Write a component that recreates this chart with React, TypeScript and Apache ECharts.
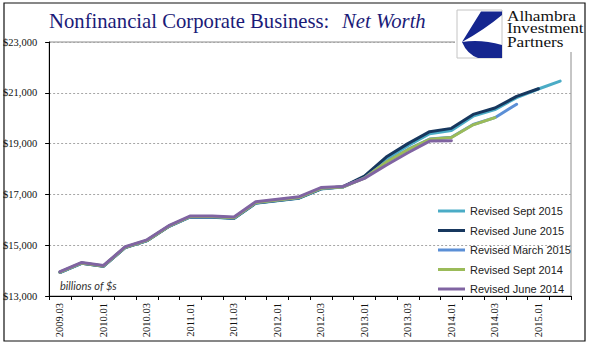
import React, { useEffect, useRef } from 'react';
import * as echarts from 'echarts';

const categories = [
  '2009.03', '2009.04',
  '2010.01', '2010.02', '2010.03', '2010.04',
  '2011.01', '2011.02', '2011.03', '2011.04',
  '2012.01', '2012.02', '2012.03', '2012.04',
  '2013.01', '2013.02', '2013.03', '2013.04',
  '2014.01', '2014.02', '2014.03', '2014.04',
  '2015.01', '2015.02',
];

const revisedSept2015 = [13925, 14285, 14170, 14905, 15175, 15735, 16115, 16100, 16050, 16650, 16750, 16850, 17210, 17290, 17680, 18390, 18920, 19390, 19520, 20080, 20340, 20810, 21150, 21460];
const revisedJune2015 = [13930, 14290, 14175, 14910, 15180, 15740, 16120, 16110, 16060, 16660, 16760, 16860, 17220, 17300, 17720, 18470, 19000, 19470, 19600, 20150, 20400, 20860, 21160, null];
const revisedMarch2015 = [13935, 14295, 14180, 14915, 15185, 15745, 16125, 16120, 16070, 16670, 16770, 16870, 17230, 17290, 17650, 18280, 18770, 19180, 19250, 19750, 20020, 20550, null, null];
const revisedSept2014 = [13940, 14300, 14185, 14920, 15190, 15750, 16130, 16130, 16080, 16680, 16780, 16880, 17240, 17290, 17640, 18270, 18760, 19170, 19240, 19740, 20020, null, null, null];
const revisedJune2014 = [13960, 14320, 14205, 14940, 15210, 15770, 16150, 16150, 16110, 16710, 16810, 16910, 17270, 17310, 17630, 18150, 18640, 19100, 19110, null, null, null, null, null];

const seriesNames = ['Revised Sept 2015', 'Revised June 2015', 'Revised March 2015', 'Revised Sept 2014', 'Revised June 2014'];
const seriesData = [revisedSept2015, revisedJune2015, revisedMarch2015, revisedSept2014, revisedJune2014];
const seriesColors = ['#4BACC6', '#17375E', '#5B8FD6', '#9BBB59', '#8064A2'];

const yMin = 13000;
const yMax = 23000;
const yStep = 2000;

const LOGO_D = 'M24 1.5 L45 1.5 L45 5 Q27 20 5 32 Z M5 32 Q24 29 45 35 L45 48 L21 48 Q10 44 5 32 Z';
echarts.graphic.registerShape('alhambraLogo', echarts.graphic.extendPath(LOGO_D, {}));

export default function App() {
  const ref = useRef<HTMLDivElement>(null);

  useEffect(() => {
    if (!ref.current) return;
    const chart = echarts.init(ref.current, undefined, { renderer: 'svg' });
    const serif = 'Liberation Serif, Times New Roman, serif';
    const option: any = {
      animation: false,
      backgroundColor: '#ffffff',
      grid: {
        left: 49, right: 24, top: 42, bottom: 65,
        show: true, borderColor: '#8c8c8c', borderWidth: 1,
      },
      xAxis: {
        type: 'category',
        data: categories,
        boundaryGap: true,
        axisLine: { lineStyle: { color: '#000', width: 1 } },
        axisTick: { show: true, interval: 0, length: 4, lineStyle: { color: '#000' } },
        axisLabel: { interval: 1, rotate: 90, margin: 7, fontFamily: serif, fontSize: 10.5, color: '#111' },
        splitLine: { show: false },
      },
      yAxis: {
        type: 'value',
        min: yMin,
        max: yMax,
        interval: yStep,
        axisLine: { show: true, lineStyle: { color: '#000', width: 1 } },
        axisTick: { show: true, length: 4, lineStyle: { color: '#000' } },
        axisLabel: {
          margin: 12,
          fontFamily: serif,
          fontSize: 10.5,
          color: '#111',
          formatter: (v: number) => '$' + v.toLocaleString('en-US'),
        },
        splitLine: { show: true, lineStyle: { color: '#a6a6a6', type: [2, 2], width: 1 } },
      },
      legend: {
        orient: 'vertical',
        left: 433,
        top: 199,
        itemWidth: 27,
        itemHeight: 3,
        itemGap: 5.5,
        icon: 'rect',
        textStyle: { fontFamily: 'Liberation Sans, Arial, sans-serif', fontSize: 11, color: '#222', lineHeight: 14 },
        data: seriesNames,
      },
      series: seriesNames.map((name, i) => ({
        name,
        type: 'line',
        data: seriesData[i],
        symbol: 'none',
        connectNulls: false,
        color: seriesColors[i],
        lineStyle: { color: seriesColors[i], width: 3, join: 'round', cap: 'round' },
        emphasis: { disabled: true },
        z: 2 + i * 0.01,
      })),
      graphic: [
        {
          type: 'text', x: 49, y: 21, z: 100,
          style: { text: 'Nonfinancial Corporate Business:', fontFamily: serif, fontSize: 20.7, fill: '#1B1B78', verticalAlign: 'middle', align: 'left' },
        },
        {
          type: 'text', x: 342, y: 21, z: 100,
          style: { text: 'Net Worth', fontFamily: serif, fontStyle: 'italic', fontSize: 20.7, fill: '#1B1B78', verticalAlign: 'middle', align: 'left' },
        },
        {
          type: 'rect', z: 100,
          shape: { x: 455, y: 5, width: 129, height: 47 },
          style: { fill: '#ffffff', stroke: 'none' },
        },
        {
          type: 'rect', z: 101,
          shape: { x: 457, y: 10, width: 45, height: 48 },
          style: { fill: '#ffffff', stroke: '#c4c4c4', lineWidth: 1 },
        },
        {
          type: 'alhambraLogo', x: 457, y: 10, z: 102,
          style: { fill: '#15268F', stroke: 'none' },
        },
        {
          type: 'text', x: 507, y: 15.7, scaleX: 1.15, z: 102,
          style: { text: 'Alhambra', fontFamily: serif, fontSize: 15, fill: '#111', verticalAlign: 'middle', align: 'left' },
        },
        {
          type: 'text', x: 507, y: 28.3, scaleX: 1.15, z: 102,
          style: { text: 'Investment', fontFamily: serif, fontSize: 15, fill: '#111', verticalAlign: 'middle', align: 'left' },
        },
        {
          type: 'text', x: 507, y: 41.7, scaleX: 1.15, z: 102,
          style: { text: 'Partners', fontFamily: serif, fontSize: 15, fill: '#111', verticalAlign: 'middle', align: 'left' },
        },
        {
          type: 'text', x: 60, y: 285, z: 100,
          style: { text: 'billions of $s', fontFamily: 'Lato, Open Sans, sans-serif', fontStyle: 'italic', fontSize: 11, fill: '#333', verticalAlign: 'middle', align: 'left' },
        },
        {
          type: 'rect', z: 110,
          shape: { x: 4, y: 3, width: 581, height: 338 },
          style: { fill: 'none', stroke: '#111', lineWidth: 1.2 },
        },
      ],
    };
    chart.setOption(option);
    return () => chart.dispose();
  }, []);

  return <div ref={ref} style={{ position: 'fixed', left: 0, top: 0, width: 595, height: 361 }} />;
}
